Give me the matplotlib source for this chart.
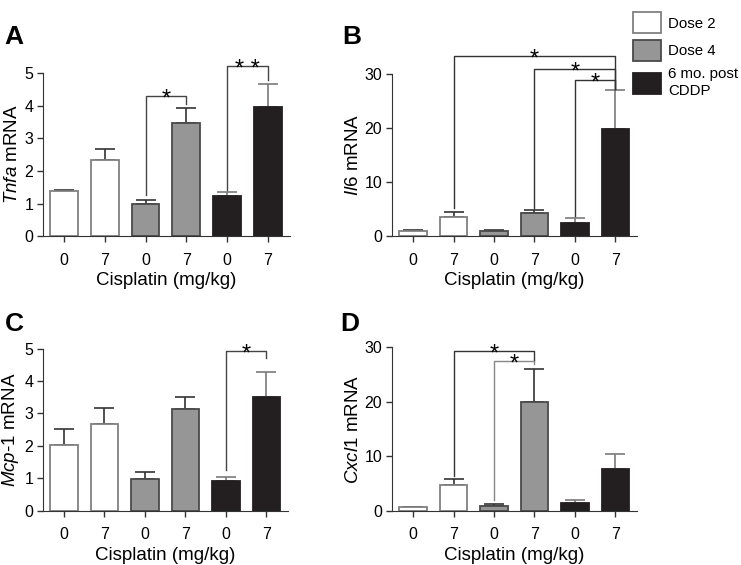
import matplotlib.pyplot as plt

plt.rcParams['font.family'] = ['Liberation Sans', 'DejaVu Sans']
plt.rcParams['mathtext.fontset'] = 'custom'
plt.rcParams['mathtext.rm'] = 'Liberation Sans'
plt.rcParams['mathtext.it'] = 'Liberation Sans:italic'

# data (mean, upper error)
tick_labels = ["0", "7", "0", "7", "0", "7"]
groups = ["Dose 2", "Dose 4", "6 mo. post\nCDDP"]

tnfa_mean = [1.37, 2.32, 1.00, 3.48, 1.22, 3.97]
tnfa_err = [0.03, 0.36, 0.12, 0.44, 0.14, 0.70]
il6_mean = [1.0, 3.6, 1.0, 4.3, 2.5, 19.8]
il6_err = [0.2, 0.8, 0.1, 0.6, 0.8, 7.2]
mcp1_mean = [2.04, 2.67, 0.99, 3.15, 0.93, 3.51]
mcp1_err = [0.48, 0.50, 0.19, 0.35, 0.10, 0.76]
cxcl1_mean = [0.7, 4.8, 0.9, 20.0, 1.4, 7.6]
cxcl1_err = [0.05, 1.1, 0.3, 6.1, 0.5, 2.8]

# brackets: (left bar, right bar, top y, left leg bottom, right leg bottom, label, color)
tnfa_sig = [(2, 3, 4.3, 1.25, 4.05, "*", "#444444"),
            (4, 5, 5.2, 1.42, 4.78, "* *", "#444444")]
il6_sig = [(1, 5, 33.3, 5.2, 27.3, "*", "#333333"),
           (3, 5, 30.9, 5.2, 27.3, "*", "#333333"),
           (4, 5, 28.9, 3.8, 27.3, "*", "#333333")]
mcp1_sig = [(4, 5, 4.92, 1.27, 4.71, "*", "#444444")]
cxcl1_sig = [(1, 3, 29.3, 6.3, 27.5, "*", "#333333"),
             (2, 3, 27.6, 1.9, 27.0, "*", "#888888")]

fills = ["white", "white", "#969696", "#969696", "#231f20", "#231f20"]
edges = ["#808080", "#808080", "#4a4a4a", "#4a4a4a", "#231f20", "#231f20"]
err_cols = ["#333333", "#333333", "#333333", "#333333", "#7a7a7a", "#7a7a7a"]


def draw_panel(ax, mean, err, sig, ymax, yticks, ylabel):
    x = list(range(len(mean)))
    for i in x:
        ax.errorbar(x[i], mean[i], yerr=[[0], [err[i]]], fmt="none",
                    ecolor=err_cols[i], elinewidth=1.2, capsize=7, capthick=1.2, zorder=1)
    ax.bar(x, mean, width=0.68, color=fills, edgecolor=edges, linewidth=1.3, zorder=2)
    for a, b, top, lb, rb, lab, col in sig:
        ax.plot([a, a, b, b], [lb, top, top, rb], color=col, lw=1.0, clip_on=False, zorder=3)
        ax.annotate(lab, ((a + b) / 2, top), xytext=(0, -7), textcoords="offset points",
                    ha="center", va="baseline", fontsize=17, annotation_clip=False)
    ax.set_xlim(-0.52, 5.54)
    ax.set_ylim(0, ymax)
    ax.set_yticks(yticks)
    ax.set_xticks(x)
    ax.set_xticklabels(tick_labels)
    ax.tick_params(labelsize=11.5, length=4, width=1, color="#333333", pad=3)
    ax.tick_params(axis="x", pad=8)
    ax.spines["top"].set_visible(False)
    ax.spines["right"].set_visible(False)
    ax.spines["left"].set_color("#333333")
    ax.spines["bottom"].set_color("#333333")
    ax.set_xlabel("Cisplatin (mg/kg)", fontsize=13.5, labelpad=3)
    ax.set_ylabel(ylabel, fontsize=13.5, labelpad=2)


fig = plt.figure(figsize=(7.41, 5.65), dpi=100)
ax_a = fig.add_axes([0.058, 0.582, 0.333, 0.289])
ax_b = fig.add_axes([0.529, 0.582, 0.331, 0.287])
ax_c = fig.add_axes([0.058, 0.096, 0.331, 0.287])
ax_d = fig.add_axes([0.529, 0.096, 0.331, 0.289])

draw_panel(ax_a, tnfa_mean, tnfa_err, tnfa_sig, 5, [0, 1, 2, 3, 4, 5], r"$\it{Tnfa}$ mRNA")
draw_panel(ax_b, il6_mean, il6_err, il6_sig, 30, [0, 10, 20, 30], r"$\it{Il6}$ mRNA")
draw_panel(ax_c, mcp1_mean, mcp1_err, mcp1_sig, 5, [0, 1, 2, 3, 4, 5], r"$\it{Mcp}$-$\it{1}$ mRNA")
draw_panel(ax_d, cxcl1_mean, cxcl1_err, cxcl1_sig, 30, [0, 10, 20, 30], r"$\it{Cxcl1}$ mRNA")

# panel letters
for lx, ly, letter in [(0.006, 0.922, "A"), (0.462, 0.922, "B"),
                       (0.006, 0.414, "C"), (0.459, 0.414, "D")]:
    fig.text(lx, ly, letter, fontsize=19, fontweight="bold", ha="left", va="baseline")

# legend boxes
handles = [plt.Rectangle((0, 0), 1, 1, facecolor=fills[i], edgecolor=edges[i], linewidth=1.3)
           for i in (0, 2, 4)]
fig.legend(handles, groups, loc="upper left", bbox_to_anchor=(0.854, 0.978),
           frameon=False, fontsize=10.8, handlelength=1.9, handleheight=1.75,
           handletextpad=0.45, labelspacing=0.45, borderaxespad=0, borderpad=0)

fig.savefig("out.png", dpi=100)
